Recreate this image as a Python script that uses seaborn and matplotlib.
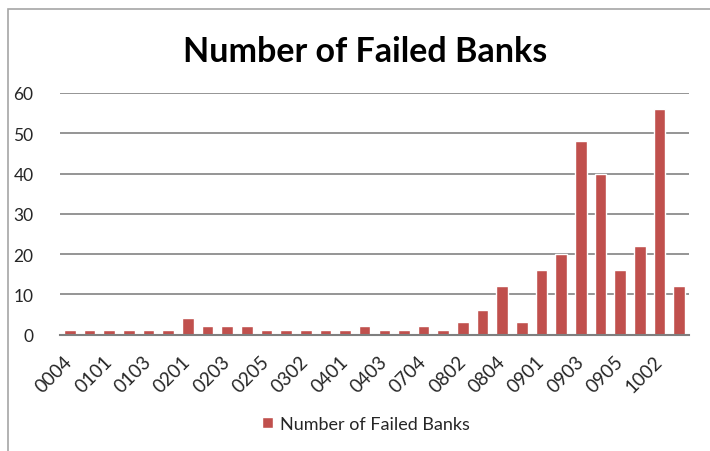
import matplotlib
matplotlib.use("Agg")
import matplotlib.pyplot as plt
import seaborn as sns
import pandas as pd
from matplotlib.patches import Rectangle

periods = ["0004", "0007", "0101", "0102", "0103", "0110", "0201", "0202",
           "0203", "0204", "0205", "0211", "0302", "0311", "0401", "0402",
           "0403", "0406", "0704", "0710", "0802", "0803", "0804", "0805",
           "0901", "0902", "0903", "0904", "0905", "0906", "1002", "1003"]
failed = [1, 1, 1, 1, 1, 1, 4, 2, 2, 2, 1, 1, 1, 1, 1, 2,
          1, 1, 2, 1, 3, 6, 12, 3, 16, 20, 48, 40, 16, 22, 56, 12]
yticks = [0, 10, 20, 30, 40, 50, 60]
series_name = "Number of Failed Banks"

df = pd.DataFrame({"period": periods, "value": failed})

sns.set_theme(style="white")
plt.rcParams["font.family"] = ["Lato", "DejaVu Sans"]

W, H = 710, 452
fig = plt.figure(figsize=(W / 100, H / 100), dpi=100)
ax = fig.add_axes([60 / W, 1 - 335.5 / H, (689 - 60) / W, (335.5 - 94) / H])

sns.barplot(data=df, x="period", y="value", color="#C0504D", width=0.59,
            saturation=1, ax=ax, label=series_name, legend=False)

ax.set_ylim(0, 60)
ax.set_xlim(-0.5, len(periods) - 0.5)
ax.set_yticks(yticks)
ax.set_yticklabels([str(v) for v in yticks], fontsize=12.5)
ax.yaxis.grid(True, color="#8c8c8c", linewidth=1.3)
ax.set_axisbelow(True)
for s in ["top", "right", "left"]:
    ax.spines[s].set_visible(False)
ax.spines["bottom"].set_color("#7f7f7f")
ax.spines["bottom"].set_linewidth(1.5)
ax.tick_params(axis="y", length=0, pad=19)
ax.tick_params(axis="x", length=0, pad=17)

idx = list(range(0, len(periods), 2))
ax.set_xticks(idx)
ax.set_xticklabels([periods[i] for i in idx], rotation=45, ha="right",
                   va="center", rotation_mode="anchor", fontsize=13.5)
for lab in ax.get_xticklabels():
    lab.set_x(lab.get_position()[0])
ax.set_xlabel("")
ax.set_ylabel("")

fig.text(365 / W, 1 - 62 / H, "Number of Failed Banks", ha="center",
         va="baseline", fontsize=24.5, fontweight="bold", color="black")

ax.legend(loc="center", bbox_to_anchor=(366 / W, 1 - 425 / H),
          bbox_transform=fig.transFigure, frameon=False, fontsize=13,
          handlelength=0.6, handleheight=0.6, handletextpad=0.4)

fig.patches.append(Rectangle((8 / W, -0.2), 1.2, 1 - 10 / H + 0.2,
                             transform=fig.transFigure, fill=False,
                             edgecolor="#a6a6a6", linewidth=1.2))

fig.savefig("out.png", dpi=100)
